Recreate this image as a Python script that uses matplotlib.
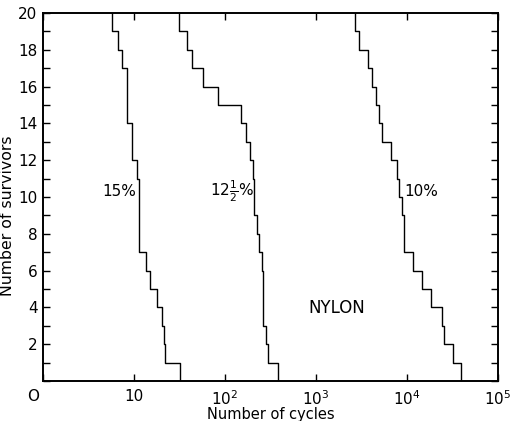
import matplotlib.pyplot as plt
import numpy as np
from matplotlib.ticker import FixedLocator, NullLocator, MultipleLocator
from matplotlib.transforms import ScaledTranslation

# failure cycles and survivors left after each failure
c15 = [5.7, 6.7, 7.4, 8.45, 9.4, 10.7, 11.3, 13.5, 15, 18.0, 20.5, 21.2, 22, 32]
s15 = [19, 18, 17, 14, 12, 11, 7, 6, 5, 4, 3, 2, 1, 0]

c125 = [31.5, 37.9, 43.7, 57.8, 83, 150, 170, 188, 202, 210, 227, 238, 253, 264, 285, 298, 384]
s125 = [19, 18, 17, 16, 15, 14, 13, 12, 11, 9, 8, 7, 6, 3, 2, 1, 0]

c10 = [2685, 2970, 3760, 4090, 4560, 4920, 5260, 6670, 7690, 8230, 8730, 9340,
       11700, 14700, 18400, 24000, 25500, 31700, 39200]
s10 = [19, 18, 17, 16, 15, 14, 13, 12, 11, 10, 9, 7, 6, 5, 4, 3, 2, 1, 0]

xticks = [1, 10, 100, 1000, 10000, 100000]
xlabels = ['O', '10', '$10^2$', '$10^3$', '$10^4$', '$10^5$']

plt.rcParams['font.family'] = 'DejaVu Sans'

fig = plt.figure(figsize=(5.18, 4.21), dpi=100)
ax = fig.add_axes([43/518, 1-381/421, 455/518, 368/421])


def survivor_line(c, s):
    c = np.asarray(c, float)
    prev = np.concatenate([[20], s[:-1]])
    xs = np.repeat(c, 2)
    ys = np.column_stack([prev, s]).ravel()
    ax.plot(xs, ys, color='black', lw=1.0)


survivor_line(c15, s15)
survivor_line(c125, s125)
survivor_line(c10, s10)

ax.set_xscale('log')
ax.set_xlim(1, 1e5)
ax.set_ylim(0, 20)
ax.xaxis.set_major_locator(FixedLocator(xticks))
ax.xaxis.set_minor_locator(NullLocator())
ax.set_xticklabels(xlabels)
ax.yaxis.set_major_locator(FixedLocator([2, 4, 6, 8, 10, 12, 14, 16, 18, 20]))
ax.yaxis.set_minor_locator(MultipleLocator(1))
ax.tick_params(which='both', direction='in', top=True, right=True, length=5, width=1, labelsize=11)
ax.tick_params(axis='x', pad=6)
ax.tick_params(axis='y', pad=4)
for sp in ax.spines.values():
    sp.set_linewidth(1.4)

# the "O" at the origin sits a bit left of its tick
lab0 = ax.get_xticklabels()[0]
lab0.set_transform(lab0.get_transform() + ScaledTranslation(-0.10, 0, fig.dpi_scale_trans))

ax.set_xlabel('Number of cycles', fontsize=10.5, labelpad=-1)
ax.set_ylabel('Number of survivors', fontsize=11.3)
ax.yaxis.set_label_coords(-0.062, 0.45)

ax.text(10.7, 10.3, '15%', fontsize=11, ha='right', va='center')
ax.text(208, 10.3, r'$12\frac{1}{2}$%', fontsize=11, ha='right', va='center')
ax.text(9300, 10.3, '10%', fontsize=11, ha='left', va='center')
ax.text(1680, 3.97, 'NYLON', fontsize=12, ha='center', va='center')

plt.savefig('out.png', dpi=100)
